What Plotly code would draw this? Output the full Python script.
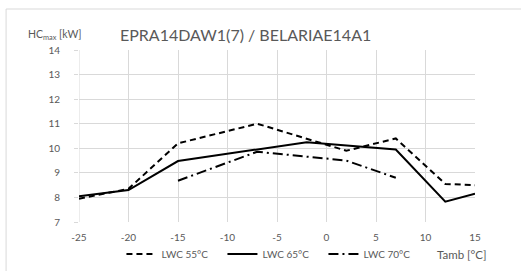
import plotly.graph_objects as go

x55 = [-25, -20, -15, -7, 2, 7, 12, 15]
y55 = [7.95, 8.35, 10.2, 11.0, 9.9, 10.4, 8.55, 8.5]
x65 = [-25, -20, -15, -2, 7, 12, 15]
y65 = [8.05, 8.3, 9.48, 10.25, 9.95, 7.83, 8.15]
x70 = [-15, -7, 2, 7]
y70 = [8.68, 9.86, 9.5, 8.8]
names = ["LWC 55°C", "LWC 65°C", "LWC 70°C"]
x_ticks = [-25, -20, -15, -10, -5, 0, 5, 10, 15]
x_labels = ["-25", "-20", "-15", "-10", "-5", "0", "5", "10", "15"]
y_ticks = [7, 8, 9, 10, 11, 12, 13, 14]
title = "EPRA14DAW1(7) / BELARIAE14A1"

FONT = "Lato"
GRAY = "#595959"
L, R, T, B = 78.5, 46, 50, 49
W, H = 521, 271
pw, ph = W - L - R, H - T - B

def px(xp):
    return (xp - L) / pw

def py(yp):
    return 1 - (yp - T) / ph

fig = go.Figure()
fig.add_trace(go.Scatter(x=x55, y=y55, mode="lines", name=names[0],
                         line=dict(color="black", width=2, dash="6px,4px")))
fig.add_trace(go.Scatter(x=x65, y=y65, mode="lines", name=names[1],
                         line=dict(color="black", width=2)))
fig.add_trace(go.Scatter(x=x70, y=y70, mode="lines", name=names[2],
                         line=dict(color="black", width=2, dash="10px,4px,2px,4px")))

fig.update_layout(
    width=W, height=H,
    margin=dict(l=L, r=R, t=T, b=B, autoexpand=False),
    paper_bgcolor="white", plot_bgcolor="white",
    font=dict(family=FONT, color=GRAY, size=10),
    showlegend=True,
    legend=dict(orientation="h", x=px(121), xanchor="left", y=py(254), yanchor="middle",
                font=dict(family=FONT, size=10, color=GRAY),
                itemwidth=30, entrywidth=56, entrywidthmode="pixels",
                tracegroupgap=0, bgcolor="rgba(0,0,0,0)"),
    xaxis=dict(range=[-25, 15], tickvals=x_ticks, ticktext=x_labels, showgrid=True,
               gridcolor="#d9d9d9", gridwidth=1, zeroline=False, showline=False,
               ticks="", ticklabelstandoff=8,
               tickfont=dict(size=10, color=GRAY), fixedrange=True),
    yaxis=dict(range=[7, 14], tickvals=y_ticks, showgrid=True, gridcolor="#d9d9d9",
               gridwidth=1, zeroline=False, showline=False, ticks="outside",
               ticklen=4, tickcolor="#d9d9d9", ticklabelstandoff=12,
               tickfont=dict(size=10, color=GRAY), fixedrange=True),
    annotations=[
        dict(text=title, x=px(245), y=py(34), xref="paper", yref="paper",
             showarrow=False, xanchor="center", yanchor="middle",
             font=dict(family=FONT, size=16, color=GRAY)),
        dict(text="HC<sub>max</sub> [kW]", x=px(54), y=py(35), xref="paper", yref="paper",
             showarrow=False, xanchor="center", yanchor="middle",
             font=dict(family=FONT, size=10.5, color=GRAY)),
        dict(text="Tamb [°C]", x=px(462), y=py(254), xref="paper", yref="paper",
             showarrow=False, xanchor="center", yanchor="middle",
             font=dict(family=FONT, size=11.5, color=GRAY)),
    ],
    shapes=[
        dict(type="line", xref="paper", yref="paper", x0=px(5.5), x1=px(5.5),
             y0=py(9), y1=py(280), line=dict(color="#d9d9d9", width=1)),
        dict(type="line", xref="paper", yref="paper", x0=px(5.5), x1=px(530),
             y0=py(9), y1=py(9), line=dict(color="#d9d9d9", width=1)),
        dict(type="line", xref="x", yref="y", x0=-25, x1=-25, y0=7, y1=14,
             line=dict(color="#d9d9d9", width=1), layer="below"),
    ],
)

fig.write_html("out.html", config={"displayModeBar": False},
               post_script="document.body.style.margin='0';document.body.style.overflow='hidden';")
